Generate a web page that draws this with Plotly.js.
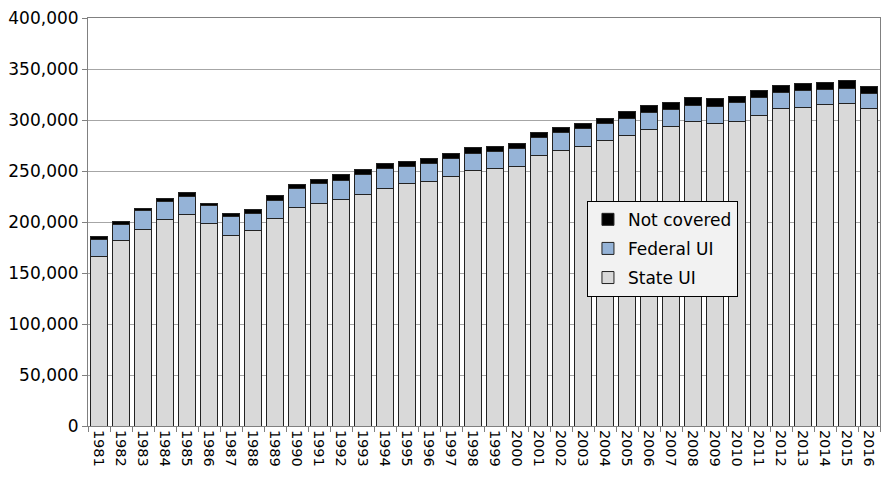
<!DOCTYPE html>
<html>
<head>
<meta charset="utf-8">
<script src="https://cdn.plot.ly/plotly-3.0.1.min.js"></script>
<style>html,body{margin:0;padding:0;background:#fff;}#chart{width:883px;height:477px;}</style>
</head>
<body>
<div id="chart"></div>
<script>
const years = ["1981","1982","1983","1984","1985","1986","1987","1988","1989","1990","1991","1992","1993","1994","1995","1996","1997","1998","1999","2000","2001","2002","2003","2004","2005","2006","2007","2008","2009","2010","2011","2012","2013","2014","2015","2016"];
const stateUI = [166000,181400,192800,202000,207800,198700,187000,191800,203300,214700,218300,221900,226500,233000,237900,239900,245000,250600,252800,254100,265600,270000,274500,279500,285000,290900,294100,299000,296700,299000,304900,311500,312700,315000,316400,311500];
const federalUI = [17000,16600,18000,18300,17100,17000,18300,16700,18000,18000,19000,19000,20300,19300,16700,17300,17000,16900,16500,17500,17000,17300,17300,17000,16700,16900,16000,15700,16700,18000,16700,15900,16000,15100,14300,14600];
const notCovered = [2600,2600,2600,2600,3900,2600,2900,4200,4200,4300,4300,5200,4900,4900,5200,4900,5200,5300,4600,4900,5300,5300,5200,5000,6500,6600,7200,7500,7500,6500,7500,6600,7300,6900,7800,6500];

const line = {color:'#222', width:1};
const traces = [
  {type:'bar', name:'State UI', legendgroup:'a', legendrank:3, x:years, y:stateUI, marker:{color:'#d9d9d9', line:line}},
  {type:'bar', name:'Federal UI', legendgroup:'b', legendrank:2, x:years, y:federalUI, marker:{color:'#95b3d7', line:line}},
  {type:'bar', name:'Not covered', legendgroup:'c', legendrank:1, x:years, y:notCovered, marker:{color:'#000000', line:line}}
];
const fam = '"DejaVu Sans", sans-serif';
const layout = {
  width:883, height:477,
  margin:{l:88, r:3, t:18, b:51, pad:0},
  barmode:'stack', bargap:0.2,
  paper_bgcolor:'#fff', plot_bgcolor:'#fff',
  font:{family:fam, size:16, color:'#000'},
  showlegend:true,
  legend:{x:0.630, y:0.552, xanchor:'left', yanchor:'top', traceorder:'grouped',
    bgcolor:'#f2f2f2', bordercolor:'#000', borderwidth:1,
    font:{family:fam, size:17, color:'#000'}, itemwidth:30, tracegroupgap:4},
  xaxis:{type:'category', tickangle:90, ticks:'outside', ticklen:5, tickcolor:'#808080',
    tickson:'boundaries', showline:true, linecolor:'#808080', linewidth:1, mirror:true,
    showgrid:false, tickfont:{family:fam, size:14.5, color:'#000'}},
  yaxis:{range:[0,400000], dtick:50000, tickformat:',d', ticks:'outside', ticklen:5,
    tickcolor:'#808080', showline:true, linecolor:'#808080', linewidth:1, mirror:true,
    showgrid:true, gridcolor:'#a6a6a6', gridwidth:1, zeroline:false,
    tickfont:{family:fam, size:17, color:'#000'}}
};
Plotly.newPlot('chart', traces, layout, {displayModeBar:false, staticPlot:true});
</script>
</body>
</html>
